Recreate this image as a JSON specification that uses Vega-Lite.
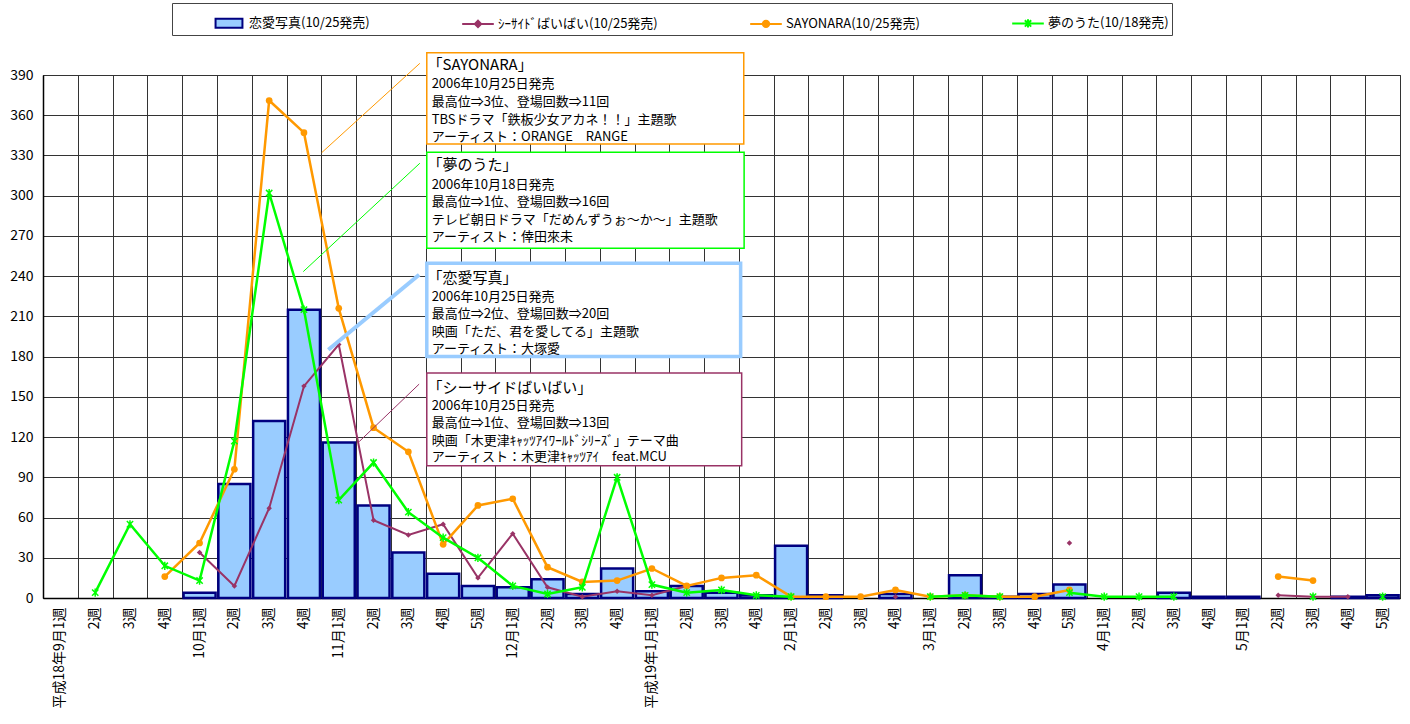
{
  "$schema": "https://vega.github.io/schema/vega-lite/v6.json",
  "width": 1357,
  "height": 523,
  "autosize": {"type": "none"},
  "padding": {"left": 43, "top": 75, "right": 10, "bottom": 126},
  "background": "white",
  "config": {
    "font": "Noto Sans CJK JP",
    "view": {"stroke": "#333", "strokeWidth": 1},
    "axis": {"gridColor": "#333", "gridOpacity": 1, "gridWidth": 1, "domainColor": "#000", "labelColor": "#000", "ticks": false}
  },
  "datasets": {
    "weeks": [
      {"w":"平成18年9月1週","a":null,"b":null,"c":null,"d":null},
      {"w":"9月2週","a":null,"b":null,"c":null,"d":4},
      {"w":"9月3週","a":null,"b":null,"c":null,"d":55},
      {"w":"9月4週","a":null,"b":null,"c":16,"d":24},
      {"w":"10月1週","a":4,"b":34,"c":41,"d":13},
      {"w":"10月2週","a":85,"b":9,"c":96,"d":117},
      {"w":"10月3週","a":132,"b":67,"c":371,"d":302},
      {"w":"10月4週","a":215,"b":158,"c":347,"d":215},
      {"w":"11月1週","a":116,"b":189,"c":216,"d":73},
      {"w":"11月2週","a":69,"b":58,"c":127,"d":101},
      {"w":"11月3週","a":34,"b":47,"c":109,"d":64},
      {"w":"11月4週","a":18,"b":55,"c":40,"d":45},
      {"w":"11月5週","a":9,"b":15,"c":69,"d":30},
      {"w":"12月1週","a":8,"b":48,"c":74,"d":9},
      {"w":"12月2週","a":14,"b":8,"c":23,"d":3},
      {"w":"12月3週","a":3,"b":1,"c":12,"d":8},
      {"w":"12月4週","a":22,"b":5,"c":13,"d":90},
      {"w":"平成19年1月1週","a":5,"b":2,"c":22,"d":10},
      {"w":"1月2週","a":9,"b":9,"c":9,"d":4},
      {"w":"1月3週","a":4,"b":null,"c":15,"d":6},
      {"w":"1月4週","a":2,"b":null,"c":17,"d":2},
      {"w":"2月1週","a":39,"b":null,"c":1,"d":1},
      {"w":"2月2週","a":2,"b":null,"c":1,"d":null},
      {"w":"2月3週","a":null,"b":null,"c":1,"d":null},
      {"w":"2月4週","a":3,"b":1,"c":6,"d":null},
      {"w":"3月1週","a":null,"b":null,"c":1,"d":1},
      {"w":"3月2週","a":17,"b":null,"c":2,"d":2},
      {"w":"3月3週","a":1,"b":null,"c":1,"d":1},
      {"w":"3月4週","a":3,"b":null,"c":1,"d":null},
      {"w":"3月5週","a":10,"b":41,"c":6,"d":4},
      {"w":"4月1週","a":null,"b":null,"c":null,"d":1},
      {"w":"4月2週","a":null,"b":null,"c":null,"d":1},
      {"w":"4月3週","a":4,"b":null,"c":null,"d":1},
      {"w":"4月4週","a":1,"b":null,"c":null,"d":null},
      {"w":"5月1週","a":1,"b":null,"c":null,"d":null},
      {"w":"5月2週","a":null,"b":2,"c":16,"d":null},
      {"w":"5月3週","a":null,"b":1,"c":13,"d":1},
      {"w":"5月4週","a":1,"b":1,"c":null,"d":null},
      {"w":"5月5週","a":2,"b":null,"c":null,"d":1}
    ],
    "notes": [
      {"song":"SAYONARA","line":0,"u":11.05,"v":397.3,"t":"「SAYONARA」"},
      {"song":"SAYONARA","line":1,"u":11.17,"v":383.1,"t":"2006年10月25日発売"},
      {"song":"SAYONARA","line":2,"u":11.17,"v":369.7,"t":"最高位⇒3位、登場回数⇒11回"},
      {"song":"SAYONARA","line":3,"u":11.17,"v":356.5,"t":"TBSドラマ「鉄板少女アカネ！！」主題歌"},
      {"song":"SAYONARA","line":4,"u":11.17,"v":343.6,"t":"アーティスト：ORANGE　RANGE"},
      {"song":"夢のうた","line":0,"u":11.05,"v":322.9,"t":"「夢のうた」"},
      {"song":"夢のうた","line":1,"u":11.17,"v":308.0,"t":"2006年10月18日発売"},
      {"song":"夢のうた","line":2,"u":11.17,"v":295.6,"t":"最高位⇒1位、登場回数⇒16回"},
      {"song":"夢のうた","line":3,"u":11.17,"v":281.9,"t":"テレビ朝日ドラマ「だめんずうぉ～か～」主題歌"},
      {"song":"夢のうた","line":4,"u":11.17,"v":269.0,"t":"アーティスト：倖田來未"},
      {"song":"恋愛写真","line":0,"u":11.05,"v":238.9,"t":"「恋愛写真」"},
      {"song":"恋愛写真","line":1,"u":11.17,"v":224.8,"t":"2006年10月25日発売"},
      {"song":"恋愛写真","line":2,"u":11.17,"v":211.7,"t":"最高位⇒2位、登場回数⇒20回"},
      {"song":"恋愛写真","line":3,"u":11.17,"v":198.7,"t":"映画「ただ、君を愛してる」主題歌"},
      {"song":"恋愛写真","line":4,"u":11.17,"v":185.8,"t":"アーティスト：大塚愛"},
      {"song":"シーサイドばいばい","line":0,"u":11.05,"v":156.5,"t":"「シーサイドばいばい」"},
      {"song":"シーサイドばいばい","line":1,"u":11.17,"v":143.3,"t":"2006年10月25日発売"},
      {"song":"シーサイドばいばい","line":2,"u":11.17,"v":130.4,"t":"最高位⇒1位、登場回数⇒13回"},
      {"song":"シーサイドばいばい","line":3,"u":11.17,"v":117.4,"t":"映画「木更津ｷｬｯﾂｱｲﾜｰﾙﾄﾞｼﾘｰｽﾞ」テーマ曲"},
      {"song":"シーサイドばいばい","line":4,"u":11.17,"v":104.8,"t":"アーティスト：木更津ｷｬｯﾂｱｲ　feat.MCU"}
    ],
    "leaders": [
      {"song":"SAYONARA","u":8.01,"v":332.1,"u2":10.83,"v2":398.7},
      {"song":"夢のうた","u":7.48,"v":243.4,"u2":10.83,"v2":324.2},
      {"song":"恋愛写真","u":8.2,"v":185.1,"u2":10.81,"v2":241.0},
      {"song":"シーサイドばいばい","u":9.09,"v":116.7,"u2":10.81,"v2":159.5}
    ],
    "boxes": [
      {"song":"SAYONARA","u":11.03,"u2":20.14,"v":338.6,"v2":406.6},
      {"song":"夢のうた","u":11.03,"u2":20.15,"v":260.8,"v2":332.4},
      {"song":"恋愛写真","u":11.03,"u2":20.05,"v":180.1,"v2":249.7},
      {"song":"シーサイドばいばい","u":11.03,"u2":20.08,"v":98.6,"v2":167.7}
    ]
  },
  "layer": [
    {
      "data": {"name": "weeks"},
      "encoding": {
        "x": {
          "field": "w", "type": "nominal", "sort": null,
          "scale": {
            "domain": ["平成18年9月1週","9月2週","9月3週","9月4週","10月1週","10月2週","10月3週","10月4週","11月1週","11月2週","11月3週","11月4週","11月5週","12月1週","12月2週","12月3週","12月4週","平成19年1月1週","1月2週","1月3週","1月4週","2月1週","2月2週","2月3週","2月4週","3月1週","3月2週","3月3週","3月4週","3月5週","4月1週","4月2週","4月3週","4月4週","5月1週","5月2週","5月3週","5月4週","5月5週"],
            "paddingInner": 0, "paddingOuter": 0
          },
          "axis": {
            "title": null, "labelAngle": 270, "labelFontSize": 14, "labelPadding": 9,
            "grid": false, "ticks": false, "domainWidth": 1.5, "labelOverlap": false,
            "labelExpr": "test(regexp('1週$'), datum.value) ? datum.value : substring(datum.value, indexof(datum.value, '月') + 1)"
          }
        }
      },
      "layer": [
        {
          "mark": {"type": "bar", "fill": "#99CCFF", "stroke": "#000080", "strokeWidth": 2.5, "width": {"band": 0.92}},
          "encoding": {
            "y": {
              "field": "a", "type": "quantitative",
              "scale": {"domain": [0, 390], "nice": false},
              "axis": {
                "title": null, "values": [0,30,60,90,120,150,180,210,240,270,300,330,360,390],
                "labelFontSize": 14, "labelPadding": 10, "grid": true, "domainWidth": 1.5
              }
            }
          }
        },
        {
          "mark": {"type": "line", "strokeWidth": 2, "color": "#993366"},
          "encoding": {"y": {"field": "b", "type": "quantitative"}}
        },
        {
          "mark": {"type": "point", "shape": "diamond", "filled": true, "size": 30, "opacity": 1, "color": "#993366"},
          "encoding": {"y": {"field": "b", "type": "quantitative"}}
        },
        {
          "mark": {"type": "line", "strokeWidth": 2.5, "color": "#FF9900"},
          "encoding": {"y": {"field": "c", "type": "quantitative"}}
        },
        {
          "mark": {"type": "point", "shape": "circle", "filled": true, "size": 45, "opacity": 1, "color": "#FF9900"},
          "encoding": {"y": {"field": "c", "type": "quantitative"}}
        },
        {
          "mark": {"type": "line", "strokeWidth": 2.5, "color": "#00FF00"},
          "encoding": {"y": {"field": "d", "type": "quantitative"}}
        },
        {
          "mark": {"type": "point", "shape": "M-1,-1L1,1M-1,1L1,-1M0,-1.3V1.3", "filled": false, "size": 40, "strokeWidth": 1.5, "opacity": 1, "color": "#00FF00"},
          "encoding": {"y": {"field": "d", "type": "quantitative"}}
        },
        {
          "transform": [{"filter": "false"}],
          "mark": {"type": "point", "filled": true, "opacity": 1, "color": "#000"},
          "encoding": {
            "y": {"field": "d", "type": "quantitative"},
            "shape": {
              "datum": "恋愛写真(10/25発売)",
              "scale": {
                "domain": ["恋愛写真(10/25発売)", "ｼｰｻｲﾄﾞばいばい(10/25発売)", "SAYONARA(10/25発売)", "夢のうた(10/18発売)"],
                "range": [
                  "M-0.85,-0.28H0.85V0.28H-0.85Z",
                  "M-1,0H1M-0.2,0L0,-0.2L0.2,0L0,0.2Z",
                  "M-1,0H1M-0.2,0A0.2,0.2 0 1,1 0.2,0A0.2,0.2 0 1,1 -0.2,0Z",
                  "M-1,0H1M-0.2,-0.2L0.2,0.2M-0.2,0.2L0.2,-0.2M0,-0.26V0.26"
                ]
              },
              "legend": {
                "orient": "none", "legendX": 129, "legendY": -72, "direction": "horizontal",
                "title": "　", "titleOrient": "left", "titlePadding": 37, "titleFontSize": 12,
                "labelFontSize": 13, "labelColor": "#000", "labelOffset": 3, "labelLimit": 400,
                "symbolSize": 1000, "columnPadding": 88, "padding": 3,
                "strokeColor": "#444", "fillColor": "white", "symbolStrokeWidth": 2,
                "labelExpr": "datum.value == '夢のうた(10/18発売)' ? datum.label + '　　　' : datum.label",
                "encoding": {
                  "symbols": {
                    "fill": {"value": {"expr": "datum.value == '恋愛写真(10/25発売)' ? '#99CCFF' : datum.value == 'ｼｰｻｲﾄﾞばいばい(10/25発売)' ? '#993366' : datum.value == 'SAYONARA(10/25発売)' ? '#FF9900' : 'transparent'"}},
                    "stroke": {"value": {"expr": "datum.value == '恋愛写真(10/25発売)' ? '#000080' : datum.value == 'ｼｰｻｲﾄﾞばいばい(10/25発売)' ? '#993366' : datum.value == 'SAYONARA(10/25発売)' ? '#FF9900' : '#00FF00'"}},
                    "strokeWidth": {"value": 2},
                    "opacity": {"value": 1}
                  }
                }
              }
            }
          }
        }
      ]
    },
    {
      "encoding": {
        "x": {
          "field": "u", "type": "quantitative",
          "scale": {"domain": [0, 39], "nice": false, "zero": false},
          "axis": {"title": null, "tickCount": 39, "grid": true, "labels": false, "ticks": false, "domain": false}
        },
        "y": {
          "field": "v", "type": "quantitative",
          "scale": {"domain": [0, 390], "nice": false},
          "axis": null
        }
      },
      "layer": [
        {
          "data": {"name": "leaders"},
          "mark": {"type": "rule"},
          "encoding": {
            "x2": {"field": "u2"},
            "y2": {"field": "v2"},
            "stroke": {
              "field": "song", "type": "nominal", "legend": null,
              "scale": {"domain": ["SAYONARA", "夢のうた", "恋愛写真", "シーサイドばいばい"], "range": ["#FF9900", "#00FF00", "#99CCFF", "#993366"]}
            },
            "strokeWidth": {"condition": {"test": "datum.song == '恋愛写真'", "value": 4}, "value": 1}
          }
        },
        {
          "data": {"name": "boxes"},
          "mark": {"type": "rect", "fill": "white"},
          "encoding": {
            "x2": {"field": "u2"},
            "y2": {"field": "v2"},
            "stroke": {"field": "song", "type": "nominal", "legend": null},
            "strokeWidth": {"condition": {"test": "datum.song == '恋愛写真'", "value": 3.5}, "value": 1.5}
          }
        },
        {
          "data": {"name": "notes"},
          "transform": [{"filter": "datum.line == 0"}],
          "mark": {"type": "text", "align": "left", "baseline": "middle", "fontSize": 15, "color": "#000"},
          "encoding": {"text": {"field": "t"}}
        },
        {
          "data": {"name": "notes"},
          "transform": [{"filter": "datum.line > 0"}],
          "mark": {"type": "text", "align": "left", "baseline": "middle", "fontSize": 13, "color": "#000"},
          "encoding": {"text": {"field": "t"}}
        }
      ]
    }
  ],
  "resolve": {"scale": {"x": "independent", "y": "independent"}}
}
